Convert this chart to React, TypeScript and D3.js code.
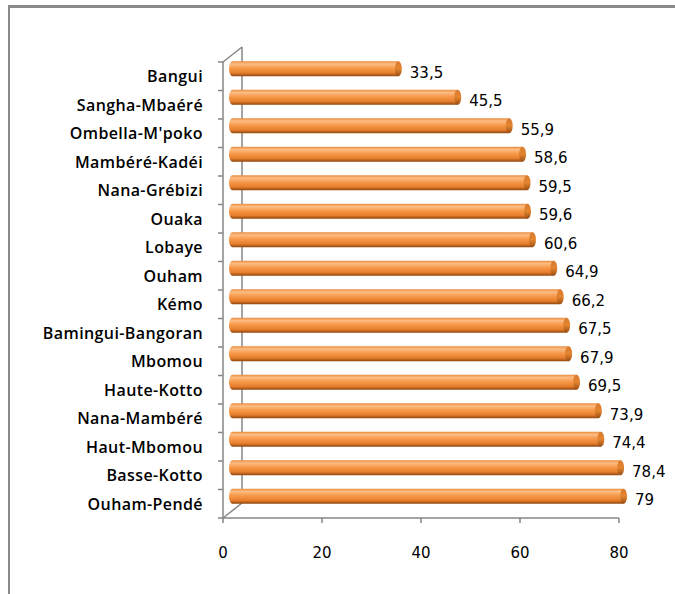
import React from "react";
import * as d3 from "d3";

const categories = [
  "Bangui",
  "Sangha-Mbaéré",
  "Ombella-M'poko",
  "Mambéré-Kadéi",
  "Nana-Grébizi",
  "Ouaka",
  "Lobaye",
  "Ouham",
  "Kémo",
  "Bamingui-Bangoran",
  "Mbomou",
  "Haute-Kotto",
  "Nana-Mambéré",
  "Haut-Mbomou",
  "Basse-Kotto",
  "Ouham-Pendé",
];
const values = [33.5, 45.5, 55.9, 58.6, 59.5, 59.6, 60.6, 64.9, 66.2, 67.5, 67.9, 69.5, 73.9, 74.4, 78.4, 79];
const xTicks = [0, 20, 40, 60, 80];

const W = 675;
const H = 594;
const left = 223;
const right = 619;
const top = 62;
const bottom = 518;
const DX = 19;
const DY = -15;

export default function App() {
  const x = d3.scaleLinear().domain([0, 80]).range([left, right]);
  const y = d3.scaleBand<string>().domain(categories).range([top, bottom]);
  const bw = y.bandwidth();
  const barH = 15;
  const rx = 3.5;
  const axisColor = "#868686";
  const fmt = (v: number) => String(v).replace(".", ",");

  return (
    <svg
      width={W}
      height={H}
      style={{ position: "absolute", left: 0, top: 0, background: "#fff" }}
    >
      <defs>
        <linearGradient id="barGrad" x1="0" y1="0" x2="0" y2="1">
          <stop offset="0%" stopColor="#e98a3c" />
          <stop offset="18%" stopColor="#fcbd84" />
          <stop offset="45%" stopColor="#f89a4c" />
          <stop offset="78%" stopColor="#e67e2c" />
          <stop offset="100%" stopColor="#8f460f" />
        </linearGradient>
        <linearGradient id="capGrad" x1="0" y1="0" x2="0" y2="1">
          <stop offset="0%" stopColor="#d97a2e" />
          <stop offset="50%" stopColor="#e38530" />
          <stop offset="100%" stopColor="#9a4d12" />
        </linearGradient>
      </defs>

      {/* outer frame */}
      <line x1={9} y1={6.5} x2={W} y2={6.5} stroke="#8a8a8a" strokeWidth={3} />
      <line x1={9} y1={5} x2={9} y2={H} stroke="#8a8a8a" strokeWidth={2} />

      {/* side wall outline */}
      <line x1={left} y1={top} x2={left + DX} y2={top + DY} stroke={axisColor} strokeWidth={1.5} />
      <line x1={left + DX} y1={top + DY} x2={left + DX} y2={bottom + DY} stroke={axisColor} strokeWidth={1.5} />
      <line x1={left} y1={bottom} x2={left + DX} y2={bottom + DY} stroke={axisColor} strokeWidth={1.5} />

      {/* front axes */}
      <line x1={left} y1={top} x2={left} y2={bottom} stroke={axisColor} strokeWidth={1.5} />
      <line x1={left} y1={bottom} x2={right} y2={bottom} stroke={axisColor} strokeWidth={1.5} />
      {categories.map((c, i) => (
        <line
          key={"yt" + c}
          x1={left - 5}
          x2={left}
          y1={top + i * bw}
          y2={top + i * bw}
          stroke={axisColor}
          strokeWidth={1.5}
        />
      ))}
      <line x1={left - 5} x2={left} y1={bottom} y2={bottom} stroke={axisColor} strokeWidth={1.5} />
      {xTicks.map((t) => (
        <g key={"xt" + t}>
          <line x1={x(t)} x2={x(t)} y1={bottom} y2={bottom + 5} stroke={axisColor} strokeWidth={1.5} />
          <text
            x={x(t)}
            y={558}
            textAnchor="middle"
            fontFamily="DejaVu Sans"
            fontSize={15}
            fill="#000"
          >
            {t}
          </text>
        </g>
      ))}

      {/* bars */}
      {categories.map((c, i) => {
        const cy = (y(c) as number) + bw / 2 + DY / 2;
        const xs = x(0) + DX / 2;
        const xe = x(values[i]) + DX / 2;
        return (
          <g key={"b" + c}>
            <ellipse cx={xs} cy={cy} rx={rx} ry={barH / 2} fill="url(#barGrad)" />
            <rect x={xs} y={cy - barH / 2} width={xe - xs} height={barH} fill="url(#barGrad)" />
            <ellipse cx={xe} cy={cy} rx={rx} ry={barH / 2} fill="url(#capGrad)" />
            <text
              x={xe + rx + 8}
              y={cy + 9}
              fontFamily="DejaVu Sans"
              fontSize={15}
              fill="#000"
            >
              {fmt(values[i])}
            </text>
          </g>
        );
      })}

      {/* category labels */}
      {categories.map((c) => (
        <text
          key={"l" + c}
          x={203}
          y={(y(c) as number) + bw / 2 + 6}
          textAnchor="end"
          fontFamily="'Open Sans'"
          fontWeight={600}
          fontSize={16}
          letterSpacing={0.4}
          fill="#000"
        >
          {c}
        </text>
      ))}
    </svg>
  );
}
